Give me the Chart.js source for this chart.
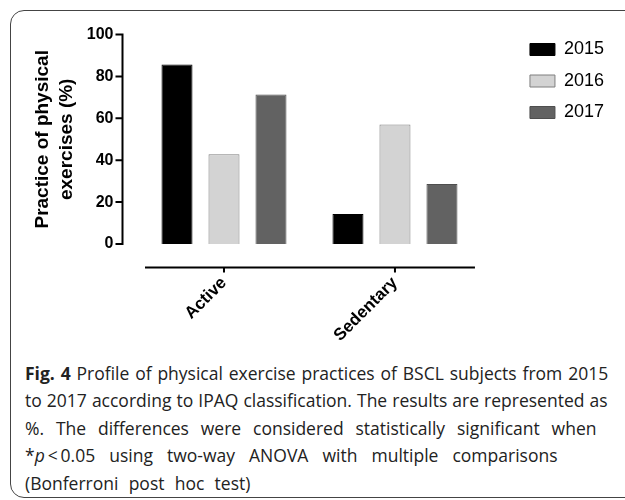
<!DOCTYPE html>
<html><head><meta charset="utf-8">
<script src="https://cdn.jsdelivr.net/npm/chart.js@4.4.1/dist/chart.umd.min.js"></script>
<style>
html,body{margin:0;padding:0;background:#fff;}
body{width:625px;height:500px;position:relative;overflow:hidden;}
#frame{position:absolute;left:10px;top:10px;width:640px;height:488px;border:1.5px solid #444;border-radius:14px;box-sizing:border-box;}
#c{position:absolute;left:0;top:0;}
#caption{position:absolute;left:25px;top:359.5px;width:600px;font-family:'Open Sans',sans-serif;font-size:17.5px;line-height:27.5px;color:#222;}
#caption div{white-space:nowrap;}
</style></head>
<body>
<div id="frame"></div>
<canvas id="c" width="625" height="360"></canvas>
<div id="caption">
<div style="word-spacing:1.3px"><b>Fig. 4</b> Profile of physical exercise practices of BSCL subjects from 2015</div>
<div style="word-spacing:0.5px">to 2017 according to IPAQ classification. The results are represented as</div>
<div style="word-spacing:7.3px">%. The differences were considered statistically significant when</div>
<div style="word-spacing:9.5px">*<i>p</i>&thinsp;&lt;&thinsp;0.05 using two-way ANOVA with multiple comparisons</div>
<div style="word-spacing:5.7px">(Bonferroni post hoc test)</div>
</div>
<script>
const categories = ['Active', 'Sedentary'];
const seriesLabels = ['2015', '2016', '2017'];
const values2015 = [85.7, 14.3];
const values2016 = [42.9, 57.1];
const values2017 = [71.4, 28.6];
const yTickValues = [0, 20, 40, 60, 80, 100];
const yTitle = ['Practice of physical', 'exercises (%)'];

const axisLines = {
  id: 'axisLines',
  afterDatasetsDraw(chart) {
    const {ctx, chartArea: a, scales: {x, y}} = chart;
    ctx.save();
    ctx.strokeStyle = '#000';
    ctx.lineWidth = 2;
    const ax = a.left - 16;
    ctx.beginPath();
    ctx.moveTo(ax, y.getPixelForValue(y.max) - 1);
    ctx.lineTo(ax, y.getPixelForValue(y.min) + 1);
    y.ticks.forEach(t => {
      const py = y.getPixelForValue(t.value);
      ctx.moveTo(ax - 7, py); ctx.lineTo(ax, py);
    });
    const ay = a.bottom + 23.5;
    ctx.moveTo(a.left + 6.5, ay); ctx.lineTo(a.right - 5.5, ay);
    x.ticks.forEach((t, i) => {
      const px = x.getPixelForTick(i);
      ctx.moveTo(px, ay); ctx.lineTo(px, ay + 5);
    });
    ctx.stroke();
    ctx.restore();
  }
};

const fam = "'Liberation Sans', Arial, sans-serif";
new Chart(document.getElementById('c'), {
  type: 'bar',
  data: {
    labels: categories,
    datasets: [
      {label: seriesLabels[0], data: values2015, backgroundColor: '#000000', borderColor: '#000000', borderWidth: 1, xAxisID: 'x', yAxisID: 'y'},
      {label: seriesLabels[1], data: values2016, backgroundColor: '#d3d3d3', borderColor: '#7f7f7f', borderWidth: 1, xAxisID: 'x', yAxisID: 'y'},
      {label: seriesLabels[2], data: values2017, backgroundColor: '#626262', borderColor: '#4e4e4e', borderWidth: 1, xAxisID: 'x', yAxisID: 'y'}
    ]
  },
  options: {
    responsive: false,
    animation: false,
    layout: {padding: {left: 20, top: 27, right: 11, bottom: 0}},
    datasets: {bar: {categoryPercentage: 0.8246, barPercentage: 0.66}},
    plugins: {
      legend: {
        position: 'right', align: 'start',
        labels: {boxWidth: 25, boxHeight: 12, padding: 13.5, color: '#000', font: {family: fam, size: 18}}
      },
      tooltip: {enabled: false}
    },
    scales: {
      x: {
        type: 'category', offset: true,
        grid: {display: false, drawTicks: false}, border: {display: false},
        ticks: {minRotation: 45, maxRotation: 45, padding: 29, color: '#000', font: {family: fam, size: 17, weight: 'bold'}},
        afterFit(s) { s.height = 116; }
      },
      x2: {
        position: 'top', display: true,
        grid: {display: false, drawTicks: false}, border: {display: false}, ticks: {display: false},
        afterFit(s) { s.height = 6; }
      },
      y: {
        min: 0, max: 100,
        afterBuildTicks(s) { s.ticks = yTickValues.map(v => ({value: v})); },
        grid: {display: false, drawTicks: false}, border: {display: false},
        ticks: {padding: 25, color: '#000', font: {family: fam, size: 16, weight: 'bold'}},
        title: {display: true, text: yTitle, color: '#000', font: {family: fam, size: 19, weight: 'bold', lineHeight: 1.3}, padding: {top: 10, bottom: 0}},
        afterFit(s) { s.width = 118.5; }
      },
      y2: {
        position: 'right', display: true,
        grid: {display: false, drawTicks: false}, border: {display: false}, ticks: {display: false},
        afterFit(s) { s.width = 36; }
      }
    }
  },
  plugins: [axisLines]
});
</script>
</body></html>
